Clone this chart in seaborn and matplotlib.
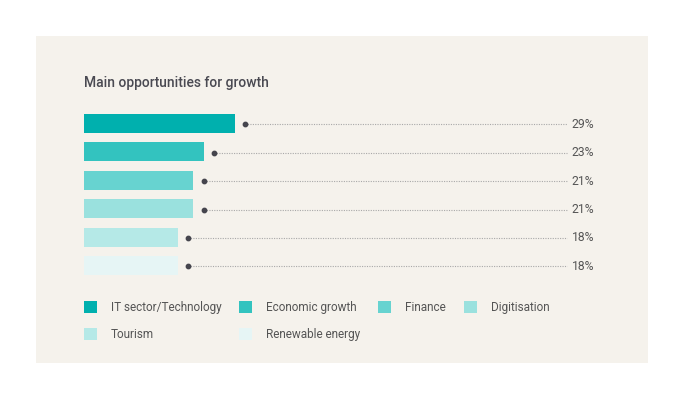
import matplotlib
matplotlib.use("Agg")
import matplotlib.pyplot as plt
from matplotlib.patches import Rectangle, Patch
import seaborn as sns
import pandas as pd

# data
categories = ["IT sector/Technology", "Economic growth", "Finance",
              "Digitisation", "Tourism", "Renewable energy"]
values = [29, 23, 21, 21, 18, 18]
labels = ["29%", "23%", "21%", "21%", "18%", "18%"]
colors = ["#00b0ae", "#33c3bf", "#67d3d0", "#9ae1de", "#b5e9e7", "#e6f5f5"]

df = pd.DataFrame({"category": categories, "value": values})

sns.set_style("white")
plt.rcParams["font.family"] = ["Roboto", "DejaVu Sans"]

W, H = 684, 400
fig = plt.figure(figsize=(W / 100, H / 100), dpi=100)
fig.patch.set_facecolor("white")

# beige panel
fig.patches.append(Rectangle((36 / W, 1 - 363 / H), (648 - 36) / W, (363 - 36) / H,
                             transform=fig.transFigure, facecolor="#f5f2ec",
                             edgecolor="none", zorder=-5))

fig.text(84 / W, 1 - 83 / H, "Main opportunities for growth", fontsize=10,
         fontweight="medium", color="#4a4a52", va="center", ha="left")

# axes: 5.2 px per percentage point
row = 28.4
top = 123.5 - row / 2
ax = fig.add_axes([84 / W, 1 - (top + 6 * row) / H, 520 / W, 6 * row / H])
ax.set_facecolor("none")
ax.set_zorder(2)

sns.barplot(data=df, x="value", y="category", hue="category", palette=colors,
            orient="h", width=0.67, legend=False, ax=ax, saturation=1,
            edgecolor="none")

dot_x = [v + 2 for v in values]
line_end = 92.9
for i, (dx, lab) in enumerate(zip(dot_x, labels)):
    ax.plot([dx, line_end], [i + 0.03, i + 0.03], linestyle=(0, (1, 1.2)),
            color="#a8a8a8", lw=0.8)
    ax.text(line_end + 0.9, i + 0.03, lab, fontsize=8.7, color="#555555",
            va="center", ha="left")
ax.scatter(dot_x, [i + 0.03 for i in range(len(values))], s=10, color="#45454d",
           zorder=3)

ax.set_xlim(0, 100)
ax.set_ylim(5.5, -0.5)
ax.axis("off")

# legend, filled column-wise so it reads row-wise
order = [0, 4, 1, 5, 2, 3]
handles = [Patch(facecolor=colors[i], edgecolor="none") for i in order]
leg_labels = [categories[i] for i in order]
fig.legend(handles, leg_labels, ncol=4, loc="upper left",
           bbox_to_anchor=(84 / W, 1 - 301 / H), frameon=False, fontsize=8.5,
           labelcolor="#555555", handlelength=1.1, handleheight=1.1,
           handletextpad=1.19, columnspacing=1.5, labelspacing=1.2,
           borderpad=0, borderaxespad=0)

fig.savefig("out.png", dpi=100, facecolor="white")
